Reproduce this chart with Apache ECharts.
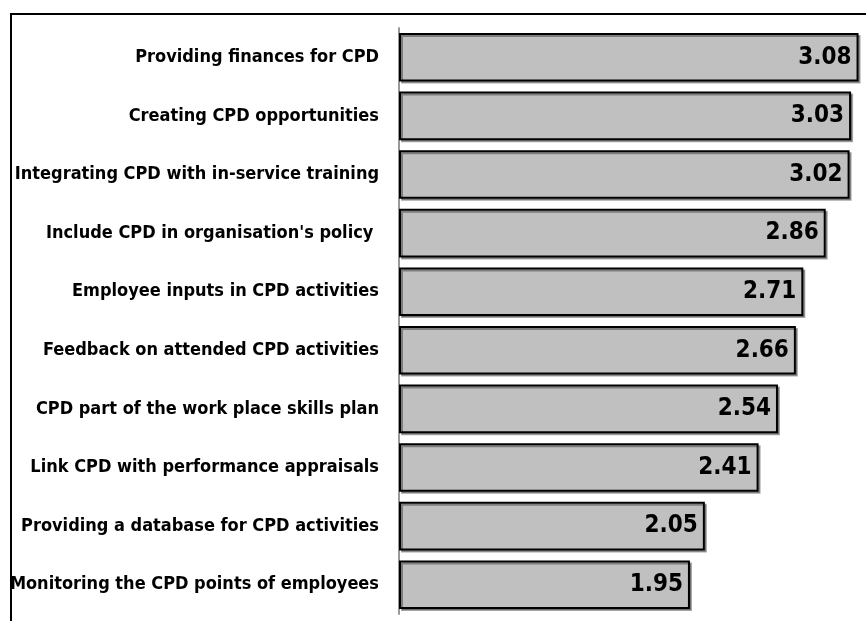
<!DOCTYPE html>
<html>
<head>
<meta charset="utf-8">
<script src="https://cdn.jsdelivr.net/npm/echarts@6/dist/echarts.min.js"></script>
<style>
  html, body { margin: 0; padding: 0; background: #fff; }
  #chart { width: 866px; height: 621px; }
</style>
</head>
<body>
<div id="chart"></div>
<script>
// categories bottom -> top (category axis on y starts from the bottom)
var categories = [
  'Monitoring the CPD points of employees',
  'Providing a database for CPD activities',
  'Link CPD with performance appraisals',
  'CPD part of the work place skills plan',
  'Feedback on attended CPD activities',
  'Employee inputs in CPD activities',
  "Include CPD in organisation's policy ",
  'Integrating CPD with in-service training',
  'Creating CPD opportunities',
  'Providing finances for CPD'
];
var values = [1.95, 2.05, 2.41, 2.54, 2.66, 2.71, 2.86, 3.02, 3.03, 3.08];

var font = '"DejaVu Sans Condensed", "Liberation Sans Narrow", sans-serif';

var myChart = echarts.init(document.getElementById('chart'));
var option = {
  animation: false,
  graphic: [{
    type: 'rect',
    shape: { x: 11, y: 14, width: 900, height: 700 },
    style: { fill: 'none', stroke: '#000', lineWidth: 2 },
    z: 100
  }],
  grid: { left: 399, right: 0, top: 28, bottom: 7, outerBoundsMode: 'none', containLabel: false },
  xAxis: {
    type: 'value',
    min: 0,
    max: 3.13,
    show: false
  },
  yAxis: {
    type: 'category',
    data: categories,
    axisLine: { lineStyle: { color: '#999', width: 2 } },
    axisTick: { length: 8, lineStyle: { color: '#999' } },
    axisLabel: {
      margin: 20,
      color: '#000',
      fontFamily: font,
      fontWeight: 'bold',
      fontSize: 18
    }
  },
  series: [{
    type: 'bar',
    data: values,
    barCategoryGap: '17%',
    itemStyle: {
      color: '#c0c0c0',
      borderColor: '#000',
      borderWidth: 2,
      shadowColor: 'rgba(0,0,0,0.35)',
      shadowOffsetX: 2,
      shadowOffsetY: 2,
      shadowBlur: 0
    },
    label: {
      show: true,
      position: 'insideRight',
      distance: 7,
      color: '#000',
      fontFamily: font,
      fontWeight: 'bold',
      fontSize: 24
    }
  }]
};
myChart.setOption(option);
</script>
</body>
</html>
